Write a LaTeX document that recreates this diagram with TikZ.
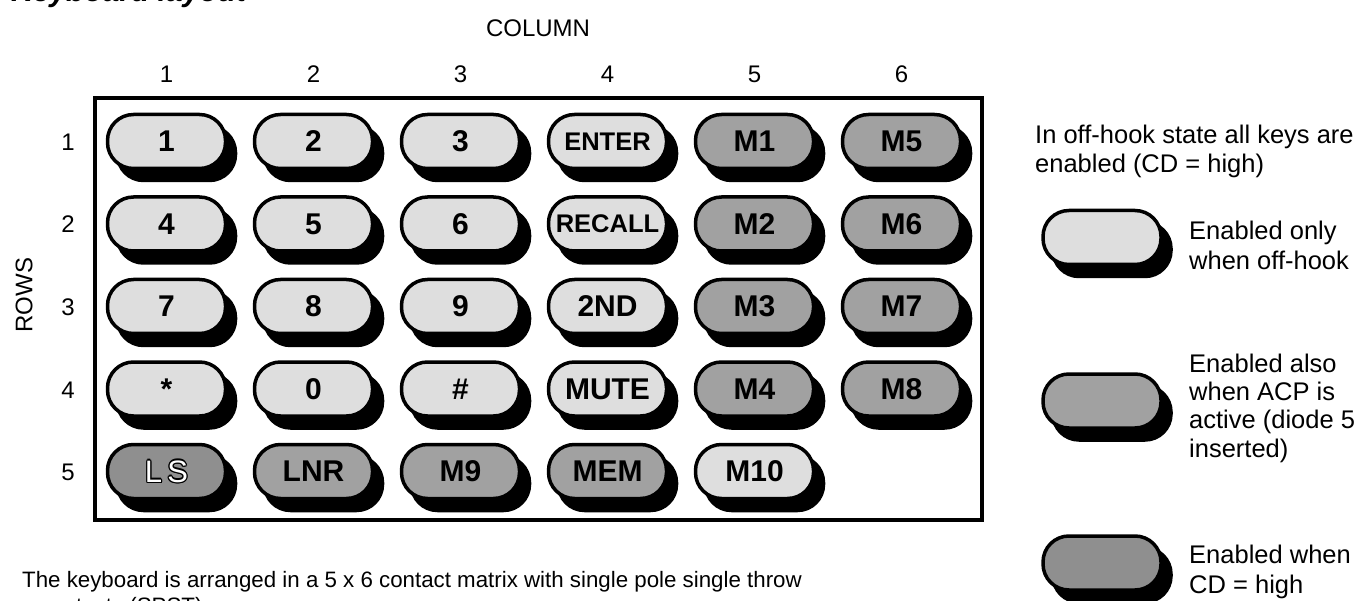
\documentclass[tikz,border=0pt]{standalone}
\usepackage{fontspec}
\setmainfont{Liberation Sans}
\definecolor{keylight}{gray}{0.87}
\definecolor{keymid}{gray}{0.63}
\definecolor{keydark}{gray}{0.56}
\tikzset{
  keyshape/.style={rectangle, rounded corners=26pt, minimum width=118pt, minimum height=54pt,
    inner sep=0pt, line width=3.5pt, draw=black},
  keyshadow/.style={keyshape, fill=black},
  keybody/.style={keyshape, font=\bfseries\fontsize{30}{30}\selectfont},
  lightkey/.style={fill=keylight},
  midkey/.style={fill=keymid},
  darkkey/.style={fill=keydark},
  lbl/.style={font=\fontsize{24}{24}\selectfont, inner sep=0pt},
  legtext/.style={font=\fontsize{25.5}{25.5}\selectfont, inner sep=0pt, anchor=base west},
  note/.style={font=\fontsize{22.3}{22.3}\selectfont, inner sep=0pt, anchor=base west},
}
\newcommand\kbkey[5]{%
  \node[keyshadow] (#1s) at (#2+10,#3+12) {};
  \node[keybody,#4] (#1) at (#2,#3) {#5};}
\newcommand\sm[1]{{\fontsize{25.5}{25.5}\selectfont #1}}
\newcommand\outl[1]{\leavevmode
  \rlap{\kern1.2pt\color{black}#1}\rlap{\kern-1.2pt\color{black}#1}%
  \rlap{\raisebox{1.2pt}{\color{black}#1}}\rlap{\raisebox{-1.2pt}{\color{black}#1}}%
  \rlap{\kern0.85pt\raisebox{0.85pt}{\color{black}#1}}\rlap{\kern-0.85pt\raisebox{0.85pt}{\color{black}#1}}%
  \rlap{\kern0.85pt\raisebox{-0.85pt}{\color{black}#1}}\rlap{\kern-0.85pt\raisebox{-0.85pt}{\color{black}#1}}%
  {\color{white}#1}}
\begin{document}
\begin{tikzpicture}[x=1pt,y=-1pt]
\useasboundingbox (0,0) rectangle (1362,601);
\clip (0,0) rectangle (1362,601);
% title (cut off at the top)
\node[inner sep=0pt, anchor=base west, font=\bfseries\itshape\fontsize{30}{30}\selectfont] (title) at (11,1.5) {Keyboard layout};
% column header
\node[lbl, anchor=base] (colhead) at (538,37) {COLUMN};
\foreach \i/\x in {1/166.5,2/313.5,3/460.5,4/607.5,5/754.5,6/901.5}
  \node[lbl, anchor=base] (c\i) at (\x,83) {\i};
% row header
\node[lbl, rotate=90] (rowhead) at (24,295) {ROWS};
\foreach \j/\y in {1/141.5,2/224,3/306.5,4/389,5/471.5}
  \node[lbl, anchor=base] (r\j) at (68,\y+9) {\j};
% frame
\draw[line width=4pt] (95,98) rectangle (982,520);
% row 1
\kbkey{k11}{166.5}{141.5}{lightkey}{1}
\kbkey{k12}{313.5}{141.5}{lightkey}{2}
\kbkey{k13}{460.5}{141.5}{lightkey}{3}
\kbkey{k14}{607.5}{141.5}{lightkey}{\sm{ENTER}}
\kbkey{k15}{754.5}{141.5}{midkey}{M1}
\kbkey{k16}{901.5}{141.5}{midkey}{M5}
% row 2
\kbkey{k21}{166.5}{224}{lightkey}{4}
\kbkey{k22}{313.5}{224}{lightkey}{5}
\kbkey{k23}{460.5}{224}{lightkey}{6}
\kbkey{k24}{607.5}{224}{lightkey}{\sm{RECALL}}
\kbkey{k25}{754.5}{224}{midkey}{M2}
\kbkey{k26}{901.5}{224}{midkey}{M6}
% row 3
\kbkey{k31}{166.5}{306.5}{lightkey}{7}
\kbkey{k32}{313.5}{306.5}{lightkey}{8}
\kbkey{k33}{460.5}{306.5}{lightkey}{9}
\kbkey{k34}{607.5}{306.5}{lightkey}{2ND}
\kbkey{k35}{754.5}{306.5}{midkey}{M3}
\kbkey{k36}{901.5}{306.5}{midkey}{M7}
% row 4
\kbkey{k41}{166.5}{389}{lightkey}{*}
\kbkey{k42}{313.5}{389}{lightkey}{0}
\kbkey{k43}{460.5}{389}{lightkey}{\#}
\kbkey{k44}{607.5}{389}{lightkey}{MUTE}
\kbkey{k45}{754.5}{389}{midkey}{M4}
\kbkey{k46}{901.5}{389}{midkey}{M8}
% row 5
\kbkey{k51}{166.5}{471.5}{darkkey}{\mdseries\fontsize{31}{31}\selectfont\outl{L\,S}}
\kbkey{k52}{313.5}{471.5}{midkey}{LNR}
\kbkey{k53}{460.5}{471.5}{midkey}{M9}
\kbkey{k54}{607.5}{471.5}{midkey}{MEM}
\kbkey{k55}{754.5}{471.5}{lightkey}{M10}
% legend
\node[legtext] (l0a) at (1035,144) {In off-hook state all keys are};
\node[legtext] (l0b) at (1035,173) {enabled (CD = high)};
\kbkey{lg1}{1102}{237.5}{lightkey}{}
\node[legtext] (l1a) at (1189,240) {Enabled only};
\node[legtext] (l1b) at (1189,270) {when off-hook};
\kbkey{lg2}{1102}{401}{midkey}{}
\node[legtext] (l2a) at (1189,372) {Enabled also};
\node[legtext] (l2b) at (1189,400) {when ACP is};
\node[legtext] (l2c) at (1189,428) {active (diode 5};
\node[legtext] (l2d) at (1189,457) {inserted)};
\kbkey{lg3}{1102}{563}{darkkey}{}
\node[legtext] (l3a) at (1189,563) {Enabled when};
\node[legtext] (l3b) at (1189,593) {CD = high};
% bottom note (cut off)
\node[note] (n1) at (22,587) {The keyboard is arranged in a 5 x 6 contact matrix with single pole single throw};
\node[note] (n2) at (40,613) {contacts (SPST)};
\end{tikzpicture}
\end{document}
